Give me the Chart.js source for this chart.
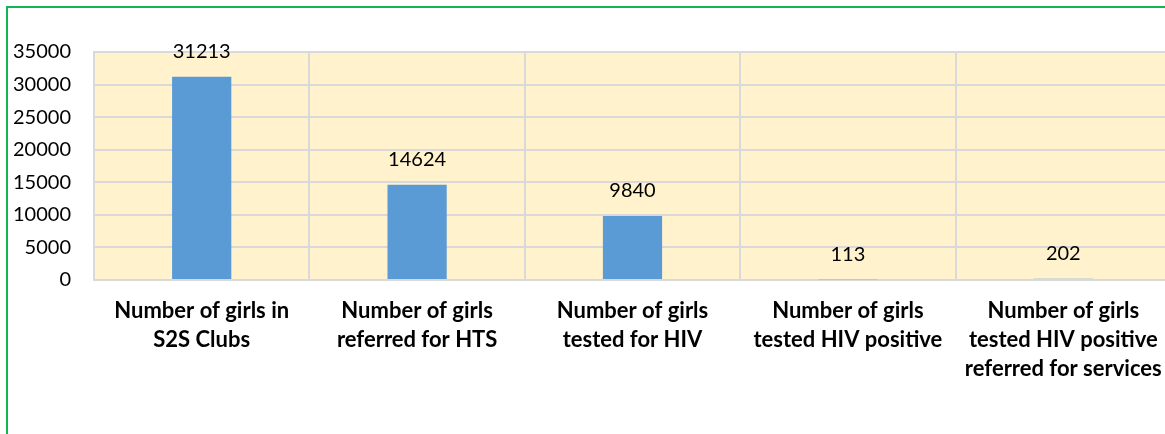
<!DOCTYPE html>
<html>
<head>
<meta charset="utf-8">
<script src="https://cdn.jsdelivr.net/npm/chart.js@4"></script>
<style>
  html, body { margin: 0; padding: 0; background: #fff; overflow: hidden; }
  #wrap { position: relative; width: 1180px; height: 434px; }
  #frame { position: absolute; left: 6px; top: 6px; width: 1200px; height: 500px;
           border-left: 2px solid #12B554; border-top: 2px solid #12B554; pointer-events: none; }
  canvas { position: absolute; left: 0; top: 0; }
</style>
</head>
<body>
<div id="wrap">
  <canvas id="canvas" width="1180" height="434"></canvas>
  <div id="frame"></div>
</div>
<script>
const categories = [
    ["Number of girls in", "S2S Clubs"],
    ["Number of girls", "referred for HTS"],
    ["Number of girls", "tested for HIV"],
    ["Number of girls", "tested HIV positive"],
    ["Number of girls", "tested HIV positive", "referred for services"]
];
const values = [31213, 14624, 9840, 113, 202];
const yTicks = [0, 5000, 10000, 15000, 20000, 25000, 30000, 35000];

const plotBackground = {
    id: "plotBackground",
    beforeDraw(chart) {
        const { ctx, chartArea: a } = chart;
        ctx.save();
        ctx.fillStyle = "#FFF2CC";
        ctx.fillRect(a.left, a.top, a.right - a.left, a.bottom - a.top);
        ctx.restore();
    }
};

const valueLabels = {
    id: "valueLabels",
    afterDatasetsDraw(chart) {
        const { ctx } = chart;
        const meta = chart.getDatasetMeta(0);
        ctx.save();
        ctx.font = "20px Lato";
        ctx.fillStyle = "#000";
        ctx.textAlign = "center";
        ctx.textBaseline = "middle";
        meta.data.forEach((bar, i) => {
            ctx.fillText(String(values[i]), bar.x, bar.y - 25);
        });
        ctx.restore();
    }
};

new Chart(document.getElementById("canvas"), {
    type: "bar",
    data: {
        labels: categories,
        datasets: [{
            data: values,
            backgroundColor: "#5B9BD5",
            borderWidth: 0,
            barPercentage: 0.275,
            categoryPercentage: 1
        }]
    },
    options: {
        responsive: false,
        animation: false,
        events: [],
        layout: { padding: { top: 52, left: 0, right: 9, bottom: 0 } },
        plugins: {
            legend: { display: false },
            tooltip: { enabled: false }
        },
        scales: {
            x: {
                grid: { color: "#D9D9D9", lineWidth: 2, drawTicks: false, offset: true },
                border: { color: "#D9D9D9", width: 2 },
                ticks: {
                    color: "#000",
                    padding: 16,
                    maxRotation: 0,
                    autoSkip: false,
                    font: { family: "Lato", size: 22, weight: "bold", lineHeight: 1.32 }
                },
                afterFit(scale) { scale.height = 154; }
            },
            y: {
                min: 0,
                max: 35000,
                afterBuildTicks(scale) { scale.ticks = yTicks.map((v) => ({ value: v })); },
                grid: { color: "#D9D9D9", lineWidth: 2, drawTicks: false },
                border: { color: "#D9D9D9", width: 2 },
                ticks: {
                    color: "#000",
                    padding: 23,
                    font: { family: "Lato", size: 20 },
                    callback: (v) => String(v)
                },
                afterFit(scale) { scale.width = 94; }
            }
        }
    },
    plugins: [plotBackground, valueLabels]
});
</script>
</body>
</html>
